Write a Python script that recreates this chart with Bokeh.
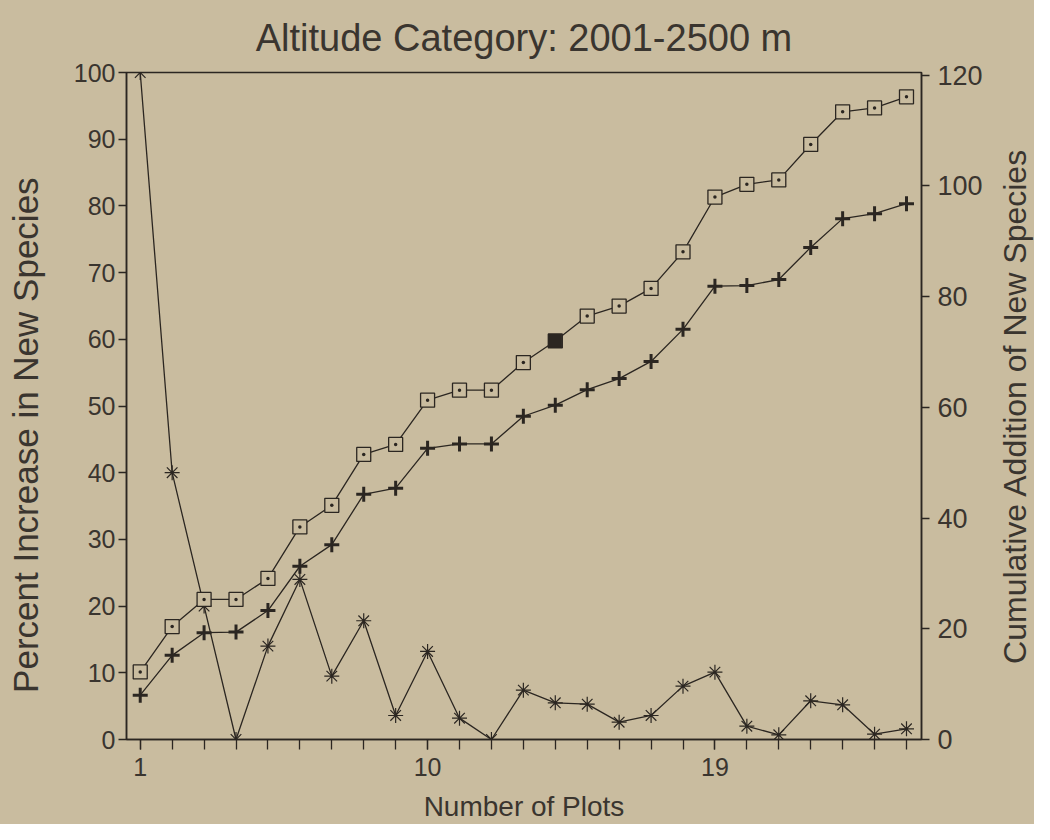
import math
from bokeh.plotting import figure
from bokeh.models import Range1d, LinearAxis, FixedTicker
from bokeh.layouts import row
from bokeh.core.properties import value
from bokeh.embed import file_html
from bokeh.resources import INLINE

# ---- data ----
plots = list(range(1, 26))
pct_increase = [100, 40, 20, 0, 14, 24, 9.5, 17.8, 3.6, 13.2, 3.2, 0, 7.4, 5.5, 5.3,
                2.6, 3.6, 8.0, 10.1, 2.0, 0.7, 5.8, 5.2, 0.8, 1.6]
cum_squares = [12.2, 20.4, 25.3, 25.3, 29.1, 38.4, 42.3, 51.5, 53.3, 61.3, 63.1, 63.1,
               68.1, 72.0, 76.5, 78.3, 81.5, 88.1, 98.0, 100.3, 101.1, 107.5, 113.4,
               114.1, 116.1]
cum_plus = [8.0, 15.2, 19.3, 19.4, 23.3, 31.3, 35.2, 44.3, 45.4, 52.6, 53.4, 53.4,
            58.4, 60.4, 63.2, 65.2, 68.3, 74.1, 81.9, 82.0, 83.1, 88.9, 94.1, 95.0, 96.8]
highlight_index = 13  # dark-filled square at plot 14
x_tick_labels = [1, 10, 19]
left_ticks = list(range(0, 101, 10))
right_ticks = list(range(0, 121, 20))

title = "Altitude Category: 2001-2500 m"
x_title = "Number of Plots"
left_title = "Percent Increase in New Species"
right_title = "Cumulative Addition of New Species"

BG = "#c9bc9f"
INK = "#2b2621"
TXT = "#3a352f"
FONT = "Liberation Sans"
NBSP = "\u00a0"

p = figure(width=994, height=824,
           x_range=Range1d(0.57, 25.47), y_range=Range1d(0, 100),
           output_backend="svg", toolbar_location=None,
           min_border_left=126, min_border_right=73,
           min_border_top=72, min_border_bottom=83,
           background_fill_color=BG, border_fill_color=BG,
           outline_line_color=INK, outline_line_width=1.5)
p.grid.visible = False
p.extra_y_ranges = {"cum": Range1d(0, 120.5)}

p.title.text = title
p.title.align = "center"
p.title.text_font = FONT
p.title.text_font_size = "38px"
p.title.text_font_style = "normal"
p.title.text_color = TXT
p.title.standoff = 28

def style_axis(ax, label_size="25px"):
    ax.axis_line_color = INK
    ax.axis_line_width = 1.5
    ax.major_tick_line_color = INK
    ax.major_tick_line_width = 1.3
    ax.minor_tick_line_color = INK
    ax.minor_tick_line_width = 1.3
    ax.major_tick_in = 0
    ax.minor_tick_in = 0
    ax.major_label_text_font = FONT
    ax.major_label_text_font_size = label_size
    ax.major_label_text_color = TXT
    ax.axis_label_text_font = FONT
    ax.axis_label_text_font_style = "normal"
    ax.axis_label_text_color = TXT

xa = p.xaxis[0]
style_axis(xa)
xa.ticker = FixedTicker(ticks=x_tick_labels, minor_ticks=plots)
xa.major_tick_out = 10
xa.minor_tick_out = 10
xa.major_label_standoff = 8
xa.axis_label = x_title
xa.axis_label_text_font_size = "28px"
xa.axis_label_standoff = 12

ya = p.yaxis[0]
style_axis(ya)
ya.ticker = FixedTicker(ticks=left_ticks, minor_ticks=[])
ya.major_tick_out = 8
ya.minor_tick_out = 0
ya.major_label_standoff = 3
# trailing no-break spaces push the visible title slightly below centre, as in the original
ya.axis_label = left_title + NBSP * 6
ya.axis_label_text_font_size = "35px"
ya.axis_label_standoff = 26

ra = LinearAxis(y_range_name="cum")
style_axis(ra, "27px")
ra.ticker = FixedTicker(ticks=right_ticks, minor_ticks=[])
ra.major_tick_out = 8
ra.minor_tick_out = 0
ra.major_label_standoff = 8
p.add_layout(ra, "right")

# percent increase (asterisks, left axis)
p.line(plots, pct_increase, line_color=INK, line_width=1.3)
p.scatter(plots, pct_increase, marker="asterisk", size=15,
          line_color=INK, line_width=1.2)

# cumulative (pluses, right axis)
p.line(plots, cum_plus, y_range_name="cum", line_color=INK, line_width=1.3)
p.scatter(plots, cum_plus, y_range_name="cum", marker="cross", size=15,
          line_color=INK, line_width=3)

# cumulative (squares, right axis)
p.line(plots, cum_squares, y_range_name="cum", line_color=INK, line_width=1.3)
p.scatter(plots, cum_squares, y_range_name="cum", marker="square_dot", size=14,
          line_color=INK, line_width=1.3, fill_color=BG)
p.scatter([plots[highlight_index]], [cum_squares[highlight_index]], y_range_name="cum",
          marker="square", size=13, line_color=INK, fill_color=INK)

# narrow strip to the right carrying the right-hand axis title (reads bottom to top)
p2 = figure(width=40, height=824, x_range=Range1d(0, 1), y_range=p.y_range,
            output_backend="svg", toolbar_location=None,
            x_axis_location=None, y_axis_location=None,
            min_border_left=0, min_border_right=0,
            min_border_top=72, min_border_bottom=83,
            background_fill_color=BG, border_fill_color=BG,
            outline_line_color=None)
p2.grid.visible = False
p2.text(x=[0.5], y=[50], text=[right_title], angle=math.pi / 2,
        text_align="center", text_baseline="middle",
        text_font=value(FONT), text_font_size="32px", text_color=TXT)

layout = row(p, p2, spacing=0, styles={"background-color": BG})
open("out.html", "w").write(file_html(layout, INLINE))
